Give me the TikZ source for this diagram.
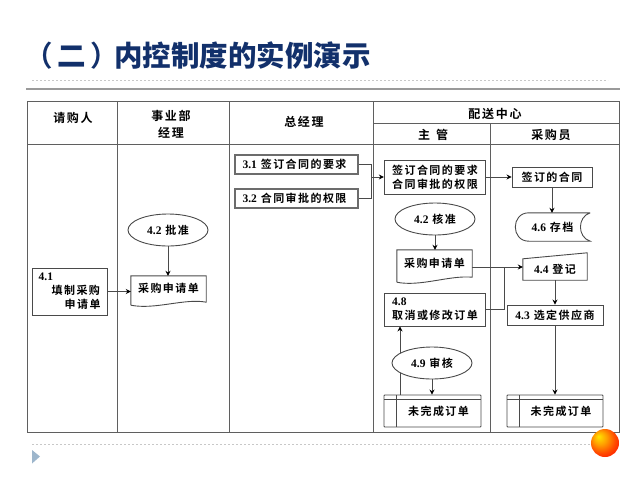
\documentclass[tikz,border=0pt]{standalone}
\usepackage{fontspec}
\usetikzlibrary{arrows.meta,shapes.geometric,backgrounds,calc}
\setmainfont{Liberation Serif}
\newfontfamily\cjkbody[LetterSpace=13]{Noto Sans CJK SC Bold}
\newfontfamily\cjkhead[LetterSpace=14]{Noto Sans CJK SC Bold}
\newfontfamily\cjktitle{Noto Sans CJK SC Black}
\newfontfamily\cjktitletc{Noto Sans CJK TC Bold}
\newcommand{\lat}[1]{{\fontspec{Liberation Serif Bold}\fontsize{11.5}{14}\selectfont #1}}
\definecolor{titleblue}{HTML}{12306B}
\definecolor{gridc}{HTML}{5F5F5F}
\definecolor{rulec}{HTML}{9A9A9A}
\definecolor{dotc}{HTML}{C8C8C8}
\definecolor{linec}{HTML}{4A4A4A}
\definecolor{triac}{HTML}{9DB6CC}
\pgfdeclareradialshading{ballshade}{\pgfpoint{-12bp}{12bp}}{color(0bp)=(yellow!80!orange);color(12bp)=(orange!75!yellow);color(24bp)=(orange!60!red);color(36bp)=(red!90!orange);color(50bp)=(red!75!black)}
\tikzset{
  bodytext/.style={font=\cjkbody\fontsize{11}{14}\selectfont,text=black},
  headtext/.style={font=\cjkhead\fontsize{12}{17}\selectfont,text=black,align=center},
  box/.style={bodytext,draw=linec,line width=0.9pt,inner sep=0pt,align=center},
  lbox/.style={box,align=left},
  heavybox/.style={box,draw=gray!85!black,line width=1.5pt},
  shapetext/.style={bodytext,inner sep=0pt,align=center},
  oval/.style={ellipse,box,fill=white,minimum width=80pt,minimum height=32pt},
  outline/.style={draw=linec,line width=0.9pt},
  flow/.style={draw=linec,line width=0.9pt,-{Stealth[length=5pt,width=5pt,color=black]}},
  plainflow/.style={draw=linec,line width=0.9pt},
  grid/.style={draw=gridc,line width=1pt},
}
\begin{document}
\begin{tikzpicture}[x=1pt,y=-1pt]
\useasboundingbox (0,0) rectangle (640,480);
% title
\node[anchor=base west,inner sep=0pt,text=titleblue,font=\cjktitle\fontsize{28.5}{30}\selectfont] (title) at (24,66)
  {{\cjktitletc （}\kern 4.5pt 二\kern 4.5pt{\cjktitletc ）}\kern -4.5pt 内控制度的实例演示};
% rules
\draw[dotc,line width=0.8pt,dash pattern=on 2pt off 2pt] (32,80.5) -- (608,80.5);
\draw[rulec,line width=1.8pt] (26,89) -- (620,89);
\draw[dotc,line width=0.8pt,dash pattern=on 2pt off 2pt] (32,444.5) -- (600,444.5);
\fill[triac] (32,450) -- (40,456.5) -- (32,463.5) -- cycle;
% table
\draw[grid] (27,101.5) rectangle (619,432);
\draw[grid] (27,144.5) -- (619,144.5);
\draw[grid] (117.5,101.5) -- (117.5,432);
\draw[grid] (229.5,101.5) -- (229.5,432);
\draw[grid] (373.5,101.5) -- (373.5,432);
\draw[grid] (373.5,123) -- (619,123);
\draw[grid] (490.8,123) -- (490.8,432);
% header
\node[headtext] (h1) at (73,118) {请购人};
\node[headtext] (h2) at (171,124) {事业部\\经理};
\node[headtext] (h3) at (304,122) {总经理};
\node[headtext] (h4) at (495,113.5) {配送中心};
\node[headtext] (h5) at (433,135) {主\hspace{6pt}管};
\node[headtext] (h6) at (551,135) {采购员};
% column 1-2
\node[lbox,minimum width=74.7pt,minimum height=47pt] (a41) at (69.6,291.5)
  {\hspace*{0pt}\lat{4.1}\\\hspace*{13pt}填制采购\\\hspace*{26pt}申请单};
\node[oval] (e1) at (168,230) {\lat{4.2} 批准};
\node[shapetext,minimum width=75pt,minimum height=24pt] (m1) at (168.5,288) {采购申请单};
\draw[outline] ($(m1.south west)+(0,5)$) -- (m1.north west) -- (m1.north east) -- ($(m1.south east)+(0,2)$)
  .. controls (185,298) and (155,310) .. ($(m1.south west)+(0,5)$);
% column 3
\node[heavybox,minimum width=123pt,minimum height=19pt] (b31) at (296.5,164.5) {\lat{3.1} 签订合同的要求\hspace*{4pt}};
\node[heavybox,minimum width=123pt,minimum height=19pt] (b32) at (296.5,198.5) {\lat{3.2} 合同审批的权限\hspace*{4pt}};
\coordinate (j0) at (371,177);
% supervisor column
\node[box,minimum width=101.4pt,minimum height=34pt] (c1) at (435,177) {签订合同的要求\\合同审批的权限};
\node[oval] (e2) at (435,219) {\lat{4.2} 核准};
\node[shapetext,minimum width=75pt,minimum height=27pt] (m2) at (434.5,263.5) {采购申请单};
\draw[outline] ($(m2.south west)+(0,5)$) -- (m2.north west) -- (m2.north east) -- (m2.south east)
  .. controls (450,275) and (420,287) .. ($(m2.south west)+(0,5)$);
\coordinate (m2out) at (472,267);
\coordinate (j1) at (504.5,267);
\node[lbox,minimum width=101.4pt,minimum height=33pt] (b48) at (435,309.5) {\lat{4.8}\\取消或修改订单};
\node[oval] (e3) at (432,363) {\lat{4.9} 审核};
\node[box,rounded corners=0.8pt,minimum width=97pt,minimum height=32pt] (o1) at (432.5,411) {\hspace*{12pt}未完成订单};
\draw[outline] (384,399.5) -- (481,399.5);
\draw[outline] (396,395) -- (396,427);
\coordinate (up) at (400,395);
% purchaser column
\node[box,minimum width=80pt,minimum height=20pt] (c2) at (552,177) {签订的合同};
\node[shapetext,minimum width=75pt,minimum height=28pt] (d46) at (552.5,227) {\lat{4.6} 存档};
\draw[outline] (d46.north east) -- ($(d46.north west)+(14,0)$)
  .. controls ($(d46.north west)+(-4,0)$) and ($(d46.south west)+(-4,0)$) .. ($(d46.south west)+(14,0)$)
  -- (d46.south east) .. controls ($(d46.south east)+(-13,-4)$) and ($(d46.north east)+(-13,4)$) .. (d46.north east);
\node[shapetext,minimum width=64pt,minimum height=21pt] (d44) at (555,269.5) {\lat{4.4} 登记};
\draw[outline] (d44.south west) -- ($(d44.north west)$) -- ($(d44.north east)+(0,-6)$) -- (d44.south east) -- cycle;
\node[box,minimum width=96pt,minimum height=20pt] (d43) at (555,315) {\lat{4.3} 选定供应商};
\node[box,rounded corners=0.8pt,minimum width=96pt,minimum height=32pt] (o2) at (555,411) {\hspace*{12pt}未完成订单};
\draw[outline] (507,399.5) -- (603,399.5);
\draw[outline] (519,395) -- (519,427);
% connectors
\draw[flow] (a41.east) -- (a41.east -| m1.west);
\draw[flow] (e1.south) -- (e1.south |- m1.north);
\draw[plainflow] (b31.east) -| (j0);
\draw[plainflow] (b32.east) -| (j0);
\draw[flow] (j0) -- (c1.west);
\draw[flow] (c1.east) -- (c2.west);
\draw[flow] (c2.south) -- (c2.south |- d46.north);
\draw[flow] (e2.south) -- (e2.south |- m2.north);
\draw[flow] (m2out) -- (m2out -| d44.west);
\draw[plainflow] (b48.east) -| (j1);
\draw[flow] (d44.south) -- (d43.north);
\draw[flow] (d43.south) -- (o2.north);
\draw[flow] (e3.south) -- (e3.south |- o1.north);
\begin{scope}[on background layer]
\draw[flow] (up) -- (up |- b48.south);
\end{scope}
% ball
\shade[shading=ballshade] (605,443) circle (14);
\end{tikzpicture}
\end{document}
